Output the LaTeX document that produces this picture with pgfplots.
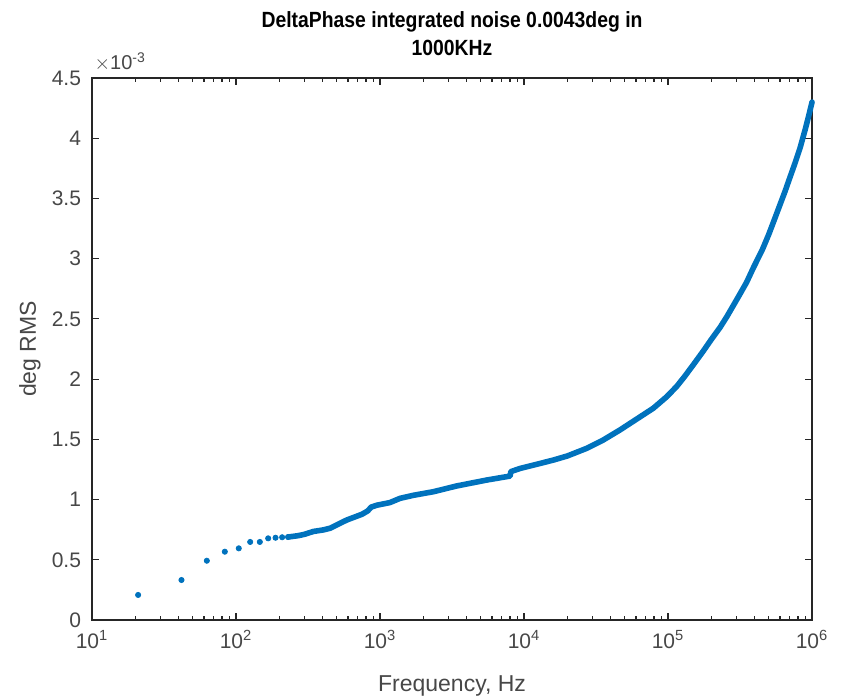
\documentclass[border=0pt]{standalone}
\usepackage{fontspec}
\setmainfont{Liberation Sans}
\newfontfamily\titlefont[FakeStretch=0.88]{Liberation Sans}
\usepackage{pgfplots}
\pgfplotsset{compat=1.18}
\definecolor{mblue}{HTML}{0072BD}
\definecolor{axgrey}{HTML}{262626}

\begin{document}
\begin{tikzpicture}
\begin{axis}[
    scale only axis,
    width=360pt, height=271pt,
    xmode=log, log basis x=10,
    xmin=10, xmax=1000000,
    ymin=0, ymax=0.0045,
    xtick={10,100,1000,10000,100000,1000000},
    minor xtick={20,30,40,50,60,70,80,90,
        200,300,400,500,600,700,800,900,
        2000,3000,4000,5000,6000,7000,8000,9000,
        20000,30000,40000,50000,60000,70000,80000,90000,
        200000,300000,400000,500000,600000,700000,800000,900000},
    ytick={0,0.0005,0.001,0.0015,0.002,0.0025,0.003,0.0035,0.004,0.0045},
    yticklabels={0,0.5,1,1.5,2,2.5,3,3.5,4,4.5},
    scaled y ticks=false,
    /pgf/number format/assume math mode=true,
    log number format basis/.code 2 args={#1\textsuperscript{\pgfmathprintnumber[fixed,precision=0]{#2}}},
    tick align=inside,
    major tick length=3.5pt, minor tick length=2pt,
    axis line style={axgrey, line width=0.6pt},
    tick style={axgrey, line width=0.6pt},
    tick label style={font=\fontsize{10.5}{12}\selectfont, color=axgrey!85},
    yticklabel style={xshift=-2pt},
    xticklabel style={yshift=-1.5pt},
    xlabel={Frequency, Hz},
    ylabel={deg RMS},
    label style={font=\fontsize{11.5}{13}\selectfont, color=axgrey!85},
    xlabel style={at={(rel axis cs:0.5,-0.122)}, anchor=center},
    ylabel style={at={(rel axis cs:-0.0861,0.5)}, anchor=center},
    title={DeltaPhase integrated noise 0.0043deg in\\1000KHz},
    title style={font=\titlefont\bfseries\fontsize{11}{14}\selectfont, align=center,
        at={(rel axis cs:0.5,1)}, anchor=south, inner sep=0pt, yshift=5pt},
    clip=false,
]
% low-frequency bins, shown as separate dots
\addplot[only marks, mark=*, mark size=1.3pt, color=mblue] coordinates {
    (20.9,0.208e-3) (41.8,0.332e-3) (62.7,0.492e-3) (83.6,0.567e-3)
    (104.5,0.595e-3) (125.4,0.648e-3) (146.3,0.648e-3) (167.2,0.678e-3)
    (188.1,0.683e-3) (209,0.687e-3) (229.9,0.689e-3)
};
% dense part, dots merge into a thick trace
\addplot[color=mblue, line width=2.8pt, line join=round, line cap=round] coordinates {
    (229.9,0.689e-3) (270,0.700e-3) (300,0.712e-3) (344,0.735e-3)
    (404,0.748e-3) (450,0.762e-3) (500,0.789e-3) (587,0.830e-3)
    (650,0.850e-3) (750,0.878e-3) (820,0.905e-3) (870,0.938e-3)
    (950,0.953e-3) (1172,0.975e-3) (1377,1.010e-3) (1700,1.035e-3)
    (2344,1.065e-3) (3411,1.113e-3) (5508,1.162e-3) (8000,1.195e-3)
    (8100,1.232e-3) (9380,1.258e-3) (12000,1.290e-3) (16000,1.328e-3)
    (20000,1.362e-3) (27200,1.425e-3) (35000,1.490e-3) (46400,1.578e-3)
    (60000,1.665e-3) (79000,1.758e-3) (98000,1.854e-3) (115000,1.940e-3)
    (130000,2.020e-3) (150000,2.120e-3) (175000,2.230e-3) (200000,2.330e-3)
    (230000,2.430e-3) (256000,2.518e-3) (300000,2.660e-3) (350000,2.800e-3)
    (392000,2.926e-3) (450000,3.070e-3) (500000,3.200e-3) (550000,3.330e-3)
    (600000,3.450e-3) (650000,3.560e-3) (700000,3.670e-3) (760000,3.790e-3)
    (826000,3.920e-3) (900000,4.080e-3) (950000,4.190e-3) (1000000,4.300e-3)
};
\node[anchor=south west, inner sep=0pt, font=\fontsize{10}{12}\selectfont, color=axgrey!85]
    at (rel axis cs:0.003,1.012) {$\times$10\textsuperscript{-3}};
\coordinate (bl) at (rel axis cs:-0.1278,-0.1421);
\coordinate (tr) at (rel axis cs:1.0444,1.1439);
\end{axis}
\pgfresetboundingbox
\path[use as bounding box] (bl) rectangle (tr);
\end{tikzpicture}
\end{document}
